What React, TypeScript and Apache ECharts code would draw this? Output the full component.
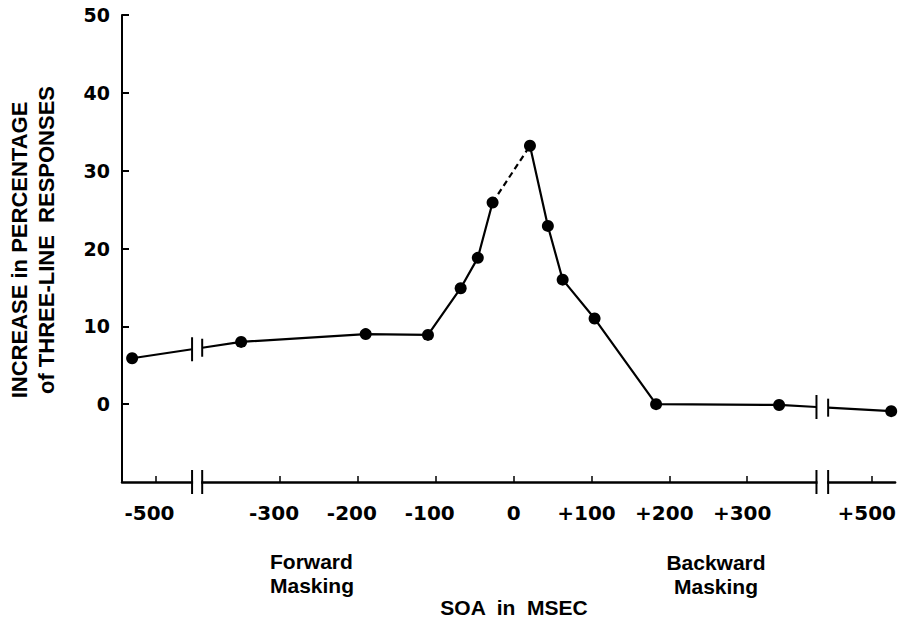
import React, { useEffect, useRef } from "react";
import * as echarts from "echarts";

// ---- data ----
const soaMs = [-530, -350, -190, -110, -68, -46, -27, 21, 44, 63, 104, 183, 341, 525];
const increase = [5.9, 8.0, 9.0, 8.9, 14.9, 18.8, 25.9, 33.2, 22.9, 16.0, 11.0, 0.0, -0.1, -0.9];
const dashedFrom = 6; // segment between point 6 and point 7 is dashed
const xTickMs = [-500, -300, -200, -100, 0, 100, 200, 300, 500];
const xTickLabels = ["-500", "-300", "-200", "-100", "0", "+100", "+200", "+300", "+500"];
const yTicks = [0, 10, 20, 30, 40, 50];

// ---- broken-axis layout (axis units) ----
const BREAK_SHIFT = 40;
const toAxis = (ms: number) => (ms < -420 ? ms + BREAK_SHIFT : ms > 420 ? ms - BREAK_SHIFT : ms);
const leftBreak = [-413, -400];
const rightBreak = [389, 404];

const W = 899;
const H = 619;
const INK = "#000";
const NUM_FONT = "DejaVu Sans";
const TXT_FONT = "Liberation Sans";

function at(a: number[], b: number[], x: number) {
  const t = (x - a[0]) / (b[0] - a[0]);
  return [x, a[1] + t * (b[1] - a[1])];
}

export default function App() {
  const ref = useRef<HTMLDivElement>(null);
  useEffect(() => {
    const chart = echarts.init(ref.current!, null, { renderer: "svg" });
    const pts = soaMs.map((m, i) => [toAxis(m), increase[i]]);
    const last = pts.length - 1;
    const lb0 = at(pts[0], pts[1], leftBreak[0]);
    const lb1 = at(pts[0], pts[1], leftBreak[1]);
    const rb0 = at(pts[last - 1], pts[last], rightBreak[0]);
    const rb1 = at(pts[last - 1], pts[last], rightBreak[1]);
    const seg1 = [pts[0], lb0];
    const seg2 = [lb1, ...pts.slice(1, dashedFrom + 1)];
    const segDash = [pts[dashedFrom], pts[dashedFrom + 1]];
    const seg3 = [...pts.slice(dashedFrom + 1, last), rb0];
    const seg4 = [rb1, pts[last]];

    const xTickAxis = xTickMs.map(toAxis);
    const lineSeries = (data: number[][], dashed = false) => ({
      type: "line",
      data,
      showSymbol: false,
      silent: true,
      clip: false,
      z: 2,
      lineStyle: { color: INK, width: 2.2, type: dashed ? [6, 4] : "solid" },
    });

    const labelStyle = { fontFamily: NUM_FONT, fontWeight: "bold", fontSize: 20, color: INK };

    chart.setOption({
      animation: false,
      backgroundColor: "#fff",
      grid: { left: 122, right: 2, top: 15, bottom: 137, containLabel: false },
      xAxis: {
        type: "value",
        min: -503,
        max: 490,
        axisLine: { show: true, onZero: false, lineStyle: { color: INK, width: 2.5 } },
        axisTick: { show: true, inside: true, length: 6, customValues: xTickAxis, lineStyle: { color: INK, width: 1.5 } },
        splitLine: { show: false },
        axisLabel: {
          show: true,
          margin: 21,
          customValues: xTickAxis,
          formatter: (v: number) => {
            let idx = 0;
            let best = Infinity;
            xTickAxis.forEach((t, i) => {
              if (Math.abs(t - v) < best) { best = Math.abs(t - v); idx = i; }
            });
            const s = xTickLabels[idx];
            if (s.startsWith("-")) return `{neg|${s}}`;
            if (s.startsWith("+")) return `{pos|${s}}`;
            return `{zero|${s}}`;
          },
          rich: {
            neg: { ...labelStyle, padding: [0, 12, 0, 0] },
            pos: { ...labelStyle, padding: [0, 10, 0, 0] },
            zero: { ...labelStyle },
          },
        },
      },
      yAxis: {
        type: "value",
        min: -10,
        max: 50,
        interval: 10,
        axisLine: { show: true, onZero: false, lineStyle: { color: INK, width: 2 } },
        axisTick: { show: true, inside: true, length: 7, customValues: yTicks, lineStyle: { color: INK, width: 2 } },
        splitLine: { show: false },
        axisLabel: {
          show: true,
          margin: 12,
          customValues: yTicks,
          fontFamily: NUM_FONT,
          fontWeight: "bold",
          fontSize: 19,
          color: INK,
        },
      },
      series: [
        lineSeries(seg1),
        lineSeries(seg2),
        lineSeries(segDash, true),
        lineSeries(seg3),
        lineSeries(seg4),
        {
          type: "scatter",
          data: pts,
          symbol: "circle",
          symbolSize: 12,
          clip: false,
          silent: true,
          z: 3,
          itemStyle: { color: INK, opacity: 1 },
        },
      ],
    });

    const px = (p: number[]) => chart.convertToPixel({ gridIndex: 0 }, p) as number[];
    const g: any[] = [];
    const bar = (x: number, y: number, half: number, w = 2) => ({
      type: "line",
      z: 10,
      shape: { x1: x, y1: y - half, x2: x, y2: y + half },
      style: { stroke: INK, lineWidth: w },
    });
    // breaks on the data line
    [[lb0, lb1], [rb0, rb1]].forEach(([a, b]) => {
      const pa = px(a);
      const pb = px(b);
      g.push(bar(pa[0], pa[1], 12));
      g.push(bar(pb[0], pb[1], 9));
    });
    // breaks on the x axis
    [leftBreak, rightBreak].forEach(([d0, d1]) => {
      const p0 = px([d0, -10]);
      const p1 = px([d1, -10]);
      g.push({
        type: "rect",
        z: 9,
        shape: { x: p0[0] + 1, y: p0[1] - 4, width: p1[0] - p0[0] - 2, height: 8 },
        style: { fill: "#fff" },
      });
      g.push(bar(p0[0], p0[1], 12));
      g.push(bar(p1[0], p1[1], 12));
    });

    const titleStyle = { fontFamily: TXT_FONT, fontWeight: "bold", fill: INK };
    g.push({
      type: "text",
      x: 19,
      y: 250,
      rotation: Math.PI / 2,
      style: { ...titleStyle, text: "INCREASE in PERCENTAGE", fontSize: 22, align: "center", verticalAlign: "middle" },
    });
    g.push({
      type: "text",
      x: 46,
      y: 240,
      rotation: Math.PI / 2,
      style: { ...titleStyle, text: "of THREE-LINE  RESPONSES", fontSize: 22, align: "center", verticalAlign: "middle" },
    });
    g.push({
      type: "text",
      x: 270,
      y: 573,
      style: { ...titleStyle, text: "Forward\nMasking", fontSize: 21, lineHeight: 24, align: "left", verticalAlign: "middle" },
    });
    g.push({
      type: "text",
      x: 716,
      y: 574,
      style: { ...titleStyle, text: "Backward\nMasking", fontSize: 21, lineHeight: 24, align: "center", verticalAlign: "middle" },
    });
    g.push({
      type: "text",
      x: 514,
      y: 607,
      style: { ...titleStyle, text: "SOA  in  MSEC", fontSize: 21, align: "center", verticalAlign: "middle" },
    });

    chart.setOption({ graphic: g });
    return () => chart.dispose();
  }, []);
  return (
    <div
      ref={ref}
      style={{ position: "fixed", left: 0, top: 0, width: W, height: H, background: "#fff" }}
    />
  );
}
